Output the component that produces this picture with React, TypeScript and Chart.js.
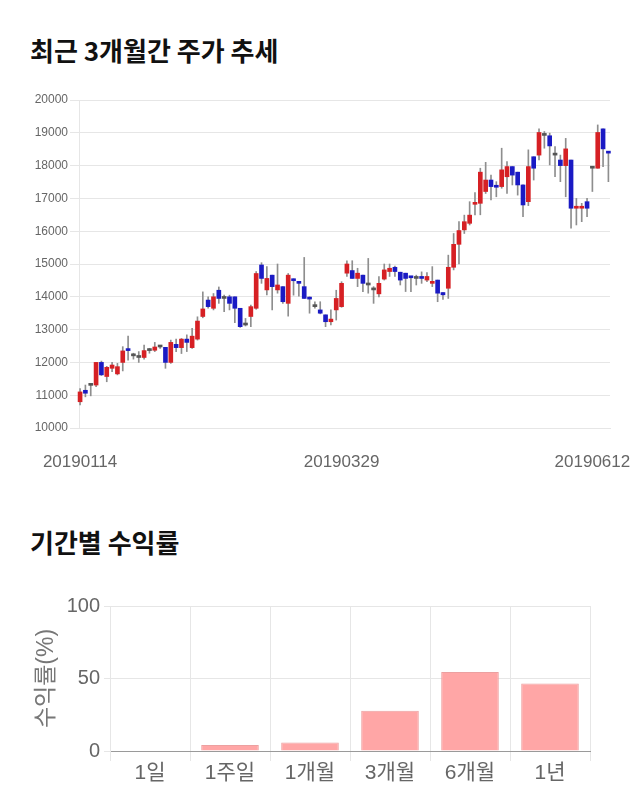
import React, { useEffect, useRef } from "react";
import { Chart, registerables } from "chart.js";

Chart.register(...registerables);

// ---- Top chart: daily candles (open / high / low / close) ----
const candleOpen = [
  10800, 11150, 11300, 11310, 12000, 11570, 11820, 11650, 12000, 12400,
  12200, 12150, 12150, 12360, 12370, 12470, 12460, 12000, 12550, 12450,
  12710, 12450, 12710, 13400, 13900, 13650, 14200, 13950, 14000, 14000,
  13650, 13140, 13400, 13650, 14970, 14210, 14660, 14210, 14310, 13800,
  14550, 14440, 14310, 13970, 13700, 13600, 13450, 13240, 13600, 13700,
  14720, 14800, 14560, 14660, 14360, 14210, 14090, 14540, 14770, 14900,
  14750, 14720, 14600, 14560, 14600, 14510, 14410, 14510, 14130, 14260,
  14900, 15600, 16040, 16240, 16820, 16850, 17210, 17560, 17380, 17360,
  17660, 17970, 17800, 17410, 16900, 18270, 18320, 18920, 18910, 18320,
  18170, 18000, 18170, 16700, 16700, 16900, 17920, 17920, 19120, 18420,
];
const candleHigh = [
  11200, 11310, 11330, 12000, 12040, 11880, 12000, 11970, 12480, 12800,
  12280, 12330, 12530, 12430, 12610, 12500, 12460, 12680, 12710, 12730,
  12840, 13040, 13390, 14150, 14000, 14100, 14300, 14050, 14050, 14000,
  13650, 13340, 13750, 14770, 15040, 14920, 14660, 15000, 14310, 14710,
  14550, 14460, 15200, 14000, 13850, 13850, 13450, 13600, 14200, 14460,
  15100, 15100, 14870, 14660, 15170, 14310, 14620, 15000, 15000, 14940,
  14750, 14720, 14600, 14660, 14760, 14740, 14920, 14510, 14130, 15270,
  15930, 16290, 16490, 16900, 17180, 17920, 18100, 17710, 17510, 18530,
  18120, 17970, 17800, 17410, 18480, 18270, 19120, 19040, 18990, 18580,
  18320, 18830, 18170, 17000, 16850, 17000, 17920, 19240, 19120, 18420,
];
const candleLow = [
  10700, 10950, 10980, 11260, 11600, 11410, 11720, 11620, 11740, 12070,
  12100, 12000, 12100, 12280, 12330, 12430, 11820, 11970, 12330, 12270,
  12330, 12430, 12680, 13360, 13650, 13600, 13800, 13550, 13600, 13210,
  13070, 13110, 13090, 13620, 14410, 14060, 13600, 14110, 13800, 13410,
  14050, 14020, 13950, 13500, 13650, 13480, 13090, 13140, 13290, 13680,
  14620, 14560, 14310, 14160, 14110, 13800, 14000, 14510, 14620, 14620,
  14360, 14160, 14160, 14360, 14410, 14460, 14310, 13850, 13920, 13950,
  14820, 15000, 15930, 16190, 16500, 16500, 17150, 16950, 17050, 17310,
  17150, 17410, 17100, 16440, 16780, 17560, 18170, 18530, 18020, 17660,
  17510, 17050, 16090, 16190, 16290, 16440, 17210, 17920, 17970, 17510,
];
const candleClose = [
  11100, 11060, 11300, 12000, 11620, 11850, 11920, 11870, 12350, 12360,
  12200, 12150, 12360, 12360, 12470, 12470, 12000, 12610, 12450, 12710,
  12610, 12800, 13260, 13630, 13700, 14000, 13950, 13950, 13800, 13650,
  13090, 13140, 13700, 14710, 14560, 14560, 14310, 14360, 13850, 14660,
  14490, 14410, 13950, 13930, 13700, 13500, 13240, 13320, 13950, 14410,
  15000, 14560, 14720, 14410, 14360, 14210, 14410, 14820, 14870, 14770,
  14510, 14560, 14580, 14560, 14560, 14620, 14460, 14110, 14060, 14900,
  15600, 16020, 16290, 16490, 16880, 17800, 17560, 17360, 17340, 17870,
  17970, 17710, 17410, 16800, 17970, 17920, 19010, 18920, 18600, 18320,
  18000, 18510, 16700, 16740, 16740, 16700, 17920, 19010, 18510, 18380,
];
const dateTickIndex = [0, 49, 96];
const dateTickLabels = ["20190114", "20190329", "20190612"];
const priceMin = 10000;
const priceMax = 20000;
const priceStep = 1000;

// ---- Bottom chart: returns by period ----
const periodLabels = ["1일", "1주일", "1개월", "3개월", "6개월", "1년"];
const periodReturns = [0, 4.2, 5.8, 27.8, 54.5, 46.5];
const returnMin = 0;
const returnMax = 100;
const returnStep = 50;

const UP = "rgb(214,32,36)";
const DOWN = "rgb(26,26,196)";
const FLAT = "#555555";
const WICK = "#8e8e8e";
const GRID = "#e6e6e6";
const SANS = "'Liberation Sans', 'Noto Sans CJK KR', sans-serif";

function CandleChart() {
  const ref = useRef<HTMLCanvasElement | null>(null);
  useEffect(() => {
    if (!ref.current) return;
    const bodies = candleOpen.map((o, i) => ({
      x: i,
      y: [Math.min(o, candleClose[i]), Math.max(o, candleClose[i])],
    }));
    const wicks = candleLow.map((l, i) => ({ x: i, y: [l, candleHigh[i]] }));
    const bodyColors = candleOpen.map((o, i) =>
      candleClose[i] > o ? UP : candleClose[i] < o ? DOWN : FLAT
    );
    const chart = new Chart(ref.current, {
      type: "bar",
      data: {
        datasets: [
          {
            data: bodies as any,
            backgroundColor: bodyColors,
            borderWidth: 0,
            grouped: false,
            maxBarThickness: 4,
            barPercentage: 1,
            categoryPercentage: 1,
            minBarLength: 2,
            clip: false as any,
          },
          {
            data: wicks as any,
            backgroundColor: WICK,
            borderWidth: 0,
            grouped: false,
            maxBarThickness: 1,
            barPercentage: 1,
            categoryPercentage: 1,
            clip: false as any,
          },
        ],
      },
      options: {
        animation: false,
        responsive: false,
        devicePixelRatio: 1,
        layout: { padding: { left: 0, right: 30, top: 15, bottom: 0 } },
        plugins: { legend: { display: false }, tooltip: { enabled: false } },
        scales: {
          x: {
            type: "linear",
            offset: false,
            bounds: "data",
            min: -0.2,
            max: 99.3,
            grid: { display: false },
            border: { display: true, color: GRID },
            afterBuildTicks: (scale: any) => {
              scale.ticks = dateTickIndex.map((v) => ({ value: v }));
            },
            afterFit: (scale: any) => {
              scale.height = 47;
              scale.paddingLeft = 0;
              scale.paddingRight = 0;
            },
            ticks: {
              autoSkip: false,
              maxRotation: 0,
              padding: 16,
              color: "#666",
              font: { family: SANS, size: 17 },
              callback: (v: any) => {
                const k = dateTickIndex.indexOf(Number(v));
                return k >= 0 ? dateTickLabels[k] : "";
              },
            },
          },
          y: {
            min: priceMin,
            max: priceMax,
            grid: { color: GRID, tickLength: 9 },
            border: { display: true, color: GRID },
            afterFit: (scale: any) => {
              scale.width = 79;
            },
            ticks: {
              stepSize: priceStep,
              padding: 2,
              color: "#666",
              font: { family: SANS, size: 12 },
              callback: (v: any) => String(v),
            },
          },
        },
      },
    });
    return () => chart.destroy();
  }, []);
  return (
    <canvas
      ref={ref}
      width={640}
      height={390}
      style={{ position: "absolute", left: 0, top: 85, width: 640, height: 390 }}
    />
  );
}

function ReturnChart() {
  const ref = useRef<HTMLCanvasElement | null>(null);
  useEffect(() => {
    if (!ref.current) return;
    const chart = new Chart(ref.current, {
      type: "bar",
      data: {
        labels: periodLabels,
        datasets: [
          {
            data: periodReturns,
            backgroundColor: "#ffa6a6",
            borderColor: "#eca0a0",
            borderWidth: 1,
          },
        ],
      },
      options: {
        animation: false,
        responsive: false,
        devicePixelRatio: 1,
        layout: { padding: { left: 0, right: 50, top: 15, bottom: 0 } },
        plugins: { legend: { display: false }, tooltip: { enabled: false } },
        scales: {
          x: {
            grid: { color: GRID, tickLength: 10, offset: true },
            border: { display: true, color: "#9a9a9a" },
            afterFit: (scale: any) => {
              scale.height = 49;
            },
            ticks: {
              padding: 0,
              color: "#666",
              font: { family: SANS, size: 21 },
            },
          },
          y: {
            min: returnMin,
            max: returnMax,
            grid: { color: GRID, tickLength: 6 },
            border: { display: true, color: GRID },
            afterFit: (scale: any) => {
              scale.width = 110;
            },
            title: {
              display: true,
              text: "수익률(%)",
              color: "#777",
              font: { family: SANS, size: 23 },
              padding: { top: 33, bottom: 0 },
            },
            ticks: {
              stepSize: returnStep,
              padding: 4,
              color: "#666",
              font: { family: SANS, size: 20 },
            },
          },
        },
      },
    });
    return () => chart.destroy();
  }, []);
  return (
    <canvas
      ref={ref}
      width={640}
      height={210}
      style={{ position: "absolute", left: 0, top: 590, width: 640, height: 210 }}
    />
  );
}

const titleStyle: React.CSSProperties = {
  position: "absolute",
  left: 30,
  margin: 0,
  fontFamily: "'Noto Sans CJK KR', sans-serif",
  fontWeight: 700,
  fontSize: 26,
  lineHeight: "30px",
  color: "#111",
  whiteSpace: "nowrap",
};

export default function App() {
  return (
    <div
      style={{
        position: "absolute",
        left: 0,
        top: 0,
        width: 640,
        height: 810,
        background: "#fff",
        overflow: "hidden",
      }}
    >
      <div style={{ ...titleStyle, top: 35 }}>최근 3개월간 주가 추세</div>
      <CandleChart />
      <div style={{ ...titleStyle, top: 527 }}>기간별 수익률</div>
      <ReturnChart />
    </div>
  );
}
